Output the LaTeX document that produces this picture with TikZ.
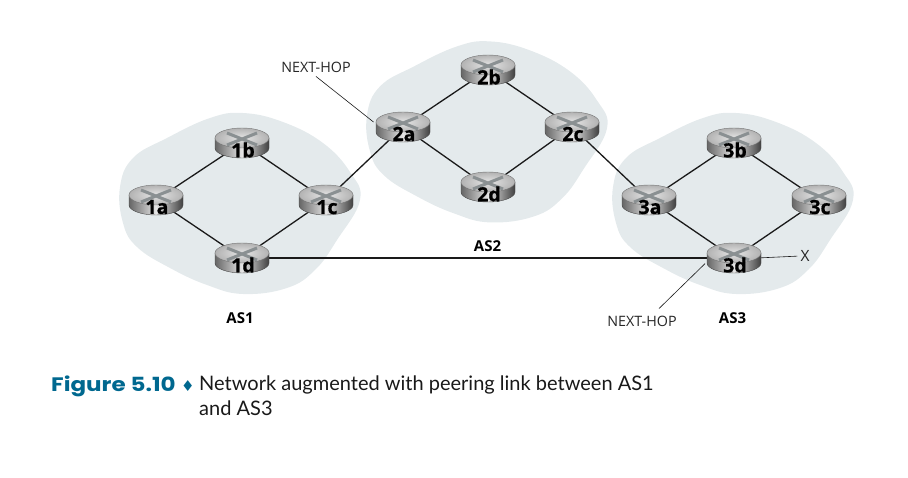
\documentclass[tikz,border=0pt]{standalone}
\usepackage{fontspec}
\setmainfont{Open Sans}
\newfontfamily\capfont{Lato}
\newfontfamily\figfont[FakeStretch=1.18]{Poppins}
\newfontfamily\markfont{DejaVu Sans}
\newfontfamily\routerfont[BoldFeatures={FakeBold=0.8}]{Open Sans}
\usetikzlibrary{shapes.geometric,backgrounds}
\definecolor{asfill}{HTML}{E4EAEC}
\definecolor{figteal}{HTML}{00688F}
\definecolor{crossgray}{HTML}{8A9092}
\definecolor{linkdark}{HTML}{1A1A1A}
\tikzset{
  link/.style={line width=1.3pt,linkdark},
  leader/.style={line width=0.6pt,linkdark},
  asblob/.style={fill=asfill,draw=none},
  routerbox/.style={ellipse,minimum width=46pt,minimum height=20pt,inner sep=0pt},
  routertext/.style={font=\routerfont\fontsize{19.5}{19.5}\selectfont\bfseries,text=black,inner sep=0pt},
  astext/.style={font=\fontsize{15}{15}\selectfont\bfseries,text=black,inner sep=0pt},
  hoptext/.style={font=\fontsize{14.3}{14.3}\selectfont,text=black!85,inner sep=0pt},
  captext/.style={font=\capfont\fontsize{20}{25}\selectfont,text=black!90,align=left,anchor=north west,inner sep=0pt},
  figtext/.style={font=\figfont\fontsize{19.5}{25}\selectfont\bfseries,text=figteal,anchor=north west,inner sep=0pt}
}
\newcommand{\routerpic}[2]{%
  \begin{scope}[shift={(#1,#2)}]
    \path[left color=black!60,right color=black!75,middle color=black!10,draw=black!70,line width=0.4pt]
      (-27,-5) -- (-27,5) arc[start angle=180,end angle=0,x radius=27,y radius=10]
      -- (27,-5) -- cycle;
    \path[inner color=black!10,outer color=black!30,draw=black!55,line width=0.4pt]
      (0,-5) ellipse[x radius=27,y radius=10];
    \draw[crossgray,line width=3pt] (-15,-10) -- (15,2) (15,-10) -- (-15,2);
  \end{scope}}
\begin{document}
\begin{tikzpicture}[x=1pt,y=-1pt]
\useasboundingbox (0,0) rectangle (908,478);
\foreach \nm/\px/\py in {1a/156/200,1b/242/143,1c/326/200,1d/242/258,
  2a/403/127,2b/488/70,2c/572/127,2d/488/187,
  3a/649/200,3b/734/143,3c/819/200,3d/734/258}{
  \routerpic{\px}{\py}
  \node[routerbox] (r\nm) at (\px,\py) {};
  \node[routertext] (t\nm) at (\px+1,\py+7) {\nm};
}
\node[astext] (as1) at (240,318) {AS1};
\node[astext] (as2) at (487.5,246.5) {AS2};
\node[astext] (as3) at (732.5,318.5) {AS3};
\node[hoptext] (hopa) at (316,67) {NEXT-HOP};
\node[hoptext] (hopd) at (642,321) {NEXT-HOP};
\node[hoptext,font=\fontsize{15.5}{15.5}\selectfont] (xout) at (805,256) {X};
\begin{scope}[on background layer]
  \foreach \dx/\dy in {0/0,247/-71.6,493/0}
    \fill[asblob,shift={(\dx,\dy)}] plot[smooth cycle,tension=0.7] coordinates {(243,113) (210,118)
      (167,138) (133,158) (120,187) (123,223) (137,247) (170,268) (207,285) (243,294)
      (287,288) (315,270) (337,240) (360,200) (350,172) (323,143) (283,122)};
  \foreach \from/\to in {1a/1b,1b/1c,1c/1d,1d/1a,2a/2b,2b/2c,2c/2d,2d/2a,
    3a/3b,3b/3c,3c/3d,3d/3a,1c/2a,2c/3a,1d/3d}
    \draw[link] (r\from) -- (r\to);
  \draw[leader,shorten >=8pt] (hopa.south) ++(0,4) -- (r2a.west);
  \draw[leader,shorten >=8pt] (hopd.north) ++(17,-7) -- (r3d.west);
  \draw[leader,shorten >=3pt] (r3d.east) -- (xout.west);
\end{scope}
\node[figtext] (figlabel) at (51,376) {Figure 5.10};
\node[captext] (capmark) at (181,380) {\markfont\fontsize{15}{25}\selectfont\textcolor{figteal}{♦}};
\node[captext] (captext) at (199,376) {Network augmented with peering link between AS1\\and AS3};
\end{tikzpicture}
\end{document}
